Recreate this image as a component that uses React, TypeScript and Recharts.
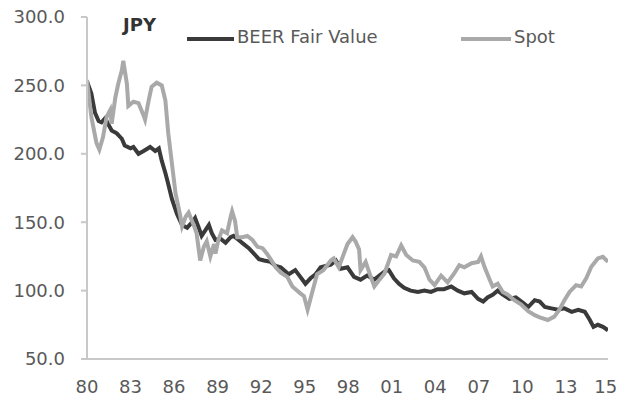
import { LineChart, Line, XAxis, YAxis } from 'recharts'

// BEER fair value (decimal year, JPY)
const beerYears = [
  1980.0, 1980.3, 1980.55, 1980.8, 1981.0, 1981.25, 1981.5, 1981.7, 1982.05, 1982.4, 1982.6, 1983.0, 1983.2,
  1983.55, 1983.9, 1984.35, 1984.7, 1984.95, 1985.15, 1985.4, 1985.55, 1985.85, 1986.2, 1986.55, 1986.9,
  1987.25, 1987.45, 1987.7, 1987.9, 1988.15, 1988.4, 1988.6, 1988.85, 1989.2, 1989.55, 1989.9, 1990.1,
  1990.45, 1990.8, 1991.15, 1991.5, 1991.85, 1992.2, 1992.65, 1993.0, 1993.35, 1993.9, 1994.35, 1994.7,
  1995.05, 1995.4, 1995.75, 1996.1, 1996.45, 1996.8, 1997.15, 1997.5, 1997.95, 1998.4, 1998.85, 1999.3,
  1999.8, 2000.15, 2000.5, 2000.8, 2001.15, 2001.5, 2001.85, 2002.3, 2002.8, 2003.25, 2003.7, 2004.15,
  2004.6, 2005.1, 2005.55, 2006.0, 2006.5, 2006.95, 2007.3, 2007.6, 2007.95, 2008.3, 2008.65, 2009.1,
  2009.55, 2010.05, 2010.4, 2010.85, 2011.2, 2011.55, 2012.0, 2012.45, 2012.9, 2013.4, 2013.85, 2014.3,
  2014.65, 2014.9, 2015.2, 2015.55, 2015.9,
]
const beerValues = [
  253, 244, 230, 224, 223, 226, 221, 217, 215, 211, 206, 204, 205,
  200, 202, 205, 202, 204, 195, 186, 180, 167, 156, 148, 146,
  150, 153, 146, 140, 144, 148, 142, 137, 138, 135, 139, 140,
  137, 134, 131, 127, 123, 122, 121, 118, 117, 112, 115, 110,
  105, 109, 112, 117, 118, 119, 122, 116, 117, 110, 108, 111,
  108, 111, 114, 115, 109, 105, 102, 100, 99, 100, 99, 101,
  101, 103, 100, 98, 99, 94, 92, 95, 97, 100, 97, 94,
  95, 91, 88, 93, 92, 88, 87, 86, 87, 84.5, 86, 84.5,
  78.5, 73.5, 75, 73.5, 71,
]

// spot rate
const spotYears = [
  1980.0, 1980.3, 1980.65, 1980.85, 1981.1, 1981.35, 1981.6, 1981.7, 1981.95, 1982.15, 1982.4, 1982.5,
  1982.75, 1982.85, 1983.2, 1983.55, 1983.9, 1984.0, 1984.25, 1984.45, 1984.8, 1985.15, 1985.4, 1985.6,
  1985.85, 1986.1, 1986.4, 1986.55, 1986.8, 1987.0, 1987.35, 1987.55, 1987.8, 1988.05, 1988.25, 1988.5,
  1988.75, 1988.85, 1989.05, 1989.3, 1989.65, 1989.9, 1990.0, 1990.2, 1990.35, 1990.7, 1991.05, 1991.4,
  1991.75, 1992.1, 1992.4, 1992.65, 1993.0, 1993.35, 1993.8, 1994.15, 1994.7, 1994.95, 1995.2, 1995.5,
  1995.85, 1996.3, 1996.8, 1997.0, 1997.35, 1997.7, 1997.95, 1998.3, 1998.5, 1998.75, 1998.85, 1999.2,
  1999.55, 1999.8, 2000.15, 2000.5, 2000.95, 2001.3, 2001.65, 2002.0, 2002.45, 2002.9, 2003.25, 2003.6,
  2003.95, 2004.4, 2004.85, 2005.3, 2005.65, 2006.0, 2006.5, 2006.95, 2007.15, 2007.4, 2007.75, 2007.95,
  2008.3, 2008.65, 2009.0, 2009.45, 2009.9, 2010.4, 2010.85, 2011.2, 2011.75, 2012.2, 2012.55, 2012.9,
  2013.25, 2013.7, 2014.05, 2014.4, 2014.75, 2015.2, 2015.55, 2015.9,
]
const spotValues = [
  254, 227, 208, 203, 212, 227, 232, 222, 241, 251, 261, 268,
  251, 235, 238, 237, 228, 225, 239, 249, 252, 250, 239, 215,
  193, 171, 156, 147, 154, 157, 148, 142, 122, 132, 136, 125,
  134, 127, 137, 144, 142, 154, 158, 151, 139, 139, 140, 137,
  132, 131, 127, 123, 117, 113, 110, 103, 98, 96, 86, 98,
  112, 115, 122, 123.5, 117, 127, 134, 139, 136, 130, 115, 121,
  110, 103, 108, 112.5, 126, 125, 133, 126, 122, 121, 117, 108,
  104, 111, 106, 112.5, 118.6, 117, 120, 121, 125, 117, 108, 103,
  105, 99, 97, 93, 90, 85, 82, 80.5, 78.5, 81, 86, 93,
  99, 104, 103, 109, 117.4, 123.5, 124.7, 121,
]

const seriesNames = ['BEER Fair Value', 'Spot']
const yTicks = [50, 100, 150, 200, 250, 300]
const xTickYears = [1980, 1983, 1986, 1989, 1992, 1995, 1998, 2001, 2004, 2007, 2010, 2013, 2015.75]
const xTickLabels = ['80', '83', '86', '89', '92', '95', '98', '01', '04', '07', '10', '13', '15']

const beerData = beerYears.map((t, i) => ({ t, v: beerValues[i] }))
const spotData = spotYears.map((t, i) => ({ t, v: spotValues[i] }))

const FONT = '"DejaVu Sans", sans-serif'
const TEXT = '#595959'
const AXIS = '#c8c8c8'
const BEER_COLOR = '#3a3a3a'
const SPOT_COLOR = '#a9a9a9'

export default function App() {
  const tick = { fill: TEXT, fontSize: 18, fontFamily: FONT }
  return (
    <div style={{ position: 'relative', width: 628, height: 401, background: '#fff' }}>
      <style>{'body{margin:0}'}</style>
      <LineChart width={628} height={401} margin={{ top: 17, right: 20, bottom: 12, left: 0 }}>
        <XAxis
          type="number"
          dataKey="t"
          domain={[1980, 2015.9]}
          ticks={xTickYears}
          tickFormatter={(v: number) => xTickLabels[xTickYears.indexOf(v)]}
          stroke={AXIS}
          strokeWidth={2}
          tickLine={false}
          tickSize={0}
          tickMargin={21}
          height={30}
          tick={tick}
          allowDataOverflow
        />
        <YAxis
          type="number"
          domain={[50, 300]}
          ticks={yTicks}
          tickFormatter={(v: number) => v.toFixed(1)}
          stroke={AXIS}
          strokeWidth={2}
          tickSize={6}
          tickMargin={16}
          width={87}
          tick={tick}
        />
        <Line data={beerData} dataKey="v" name={seriesNames[0]} stroke={BEER_COLOR} strokeWidth={4} dot={false} isAnimationActive={false} />
        <Line data={spotData} dataKey="v" name={seriesNames[1]} stroke={SPOT_COLOR} strokeWidth={4} dot={false} isAnimationActive={false} />
      </LineChart>
      <div style={{ position: 'absolute', left: 123, top: 15, fontFamily: FONT, fontSize: 18, fontWeight: 'bold', lineHeight: '20px', color: '#333' }}>
        JPY
      </div>
      <div style={{ position: 'absolute', left: 187, top: 27, fontFamily: FONT, fontSize: 18, lineHeight: '20px', color: TEXT }}>
        {seriesNames.map((name, i) => (
          <div key={name} style={{ position: 'absolute', left: i === 0 ? 0 : 274, top: 0, whiteSpace: 'nowrap', display: 'flex', alignItems: 'center' }}>
            <span style={{ display: 'inline-block', width: i === 0 ? 47 : 50, height: 4, background: i === 0 ? BEER_COLOR : SPOT_COLOR, marginRight: 3, marginTop: 4 }} />
            <span>{name}</span>
          </div>
        ))}
      </div>
    </div>
  )
}
